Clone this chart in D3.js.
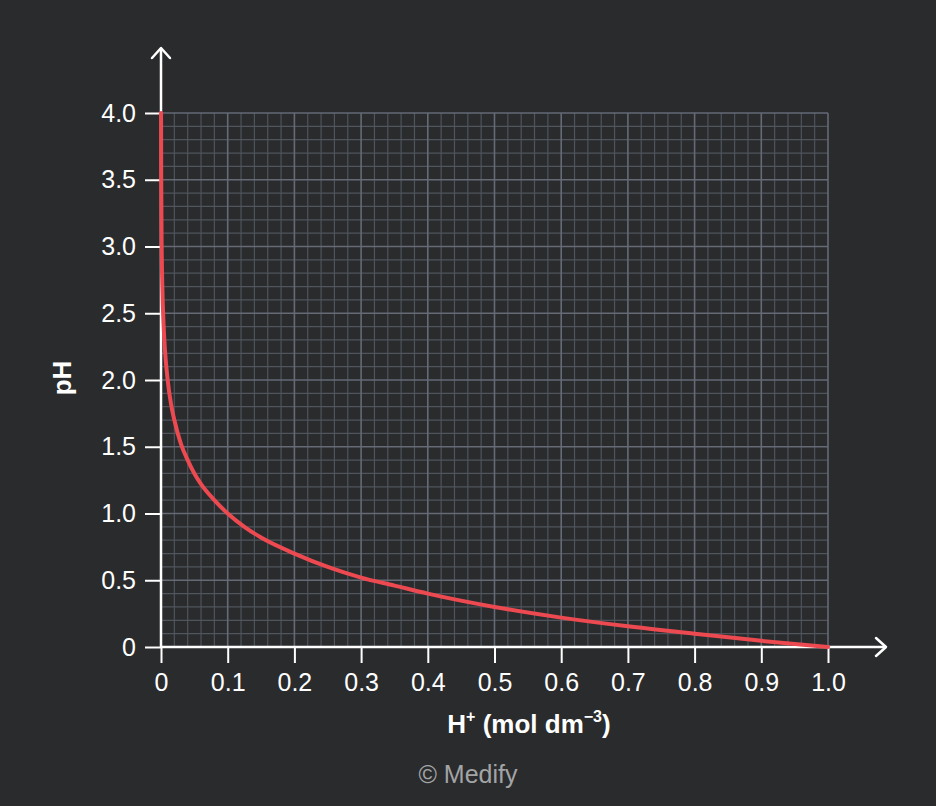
<!DOCTYPE html>
<html>
<head>
<meta charset="utf-8">
<script src="https://cdn.jsdelivr.net/npm/d3@7"></script>
<style>
  html, body { margin: 0; padding: 0; background: #2a2b2d; }
  svg { display: block; font-family: "Liberation Sans", Arial, sans-serif; }
</style>
</head>
<body>
<div id="chart"></div>
<script>
// values
const hConc = [0.0001, 0.0003, 0.001, 0.002, 0.004, 0.006, 0.01, 0.015, 0.02, 0.03, 0.04, 0.05,
  0.06, 0.08, 0.1, 0.125, 0.15, 0.2, 0.25, 0.3, 0.35, 0.4, 0.5, 0.6, 0.7, 0.8, 0.9, 1.0];
const phValues = [4.0, 3.52, 3.0, 2.7, 2.4, 2.22, 2.0, 1.82, 1.7, 1.52, 1.4, 1.3,
  1.22, 1.1, 1.0, 0.9, 0.82, 0.7, 0.6, 0.52, 0.46, 0.4, 0.3, 0.22, 0.155, 0.1, 0.046, 0.0];
const xTicks = [0, 0.1, 0.2, 0.3, 0.4, 0.5, 0.6, 0.7, 0.8, 0.9, 1.0];
const xTickLabels = ["0", "0.1", "0.2", "0.3", "0.4", "0.5", "0.6", "0.7", "0.8", "0.9", "1.0"];
const yTicks = [0, 0.5, 1.0, 1.5, 2.0, 2.5, 3.0, 3.5, 4.0];
const yTickLabels = ["0", "0.5", "1.0", "1.5", "2.0", "2.5", "3.0", "3.5", "4.0"];

const WIDTH = 936;
const HEIGHT = 806;
const MARGIN = { left: 161, right: 108, top: 113, bottom: 159 };
const CHART_WIDTH = WIDTH - MARGIN.left - MARGIN.right;
const CHART_HEIGHT = HEIGHT - MARGIN.top - MARGIN.bottom;

const data = hConc.map((h, i) => ({ h: h, ph: phValues[i] }));

const svg = d3.select('#chart')
  .append('svg')
  .attr('width', WIDTH)
  .attr('height', HEIGHT);

svg.append('rect')
  .attr('width', WIDTH)
  .attr('height', HEIGHT)
  .attr('fill', '#2a2b2d');

const g = svg.append('g')
  .attr('transform', `translate(${MARGIN.left}, ${MARGIN.top})`);

const xScale = d3.scaleLinear().domain([0, 1]).range([0, CHART_WIDTH]);
const yScale = d3.scaleLinear().domain([0, 4]).range([CHART_HEIGHT, 0]);

// minor grid
const grid = g.append('g').attr('class', 'grid');
grid.selectAll('.vminor')
  .data(d3.range(1, 50).filter(i => i % 5 !== 0).map(i => i * 0.02))
  .enter().append('line')
  .attr('x1', d => xScale(d)).attr('x2', d => xScale(d))
  .attr('y1', 0).attr('y2', CHART_HEIGHT)
  .attr('stroke', '#4f545d').attr('stroke-width', 1.2);
grid.selectAll('.hminor')
  .data(d3.range(1, 40).filter(i => i % 5 !== 0).map(i => i * 0.1))
  .enter().append('line')
  .attr('y1', d => yScale(d)).attr('y2', d => yScale(d))
  .attr('x1', 0).attr('x2', CHART_WIDTH)
  .attr('stroke', '#4f545d').attr('stroke-width', 1.2);

// major grid
grid.selectAll('.vmajor')
  .data(xTicks.slice(1))
  .enter().append('line')
  .attr('x1', d => xScale(d)).attr('x2', d => xScale(d))
  .attr('y1', 0).attr('y2', CHART_HEIGHT)
  .attr('stroke', '#656a76').attr('stroke-width', 1.6);
grid.selectAll('.hmajor')
  .data(yTicks.slice(1))
  .enter().append('line')
  .attr('y1', d => yScale(d)).attr('y2', d => yScale(d))
  .attr('x1', 0).attr('x2', CHART_WIDTH)
  .attr('stroke', '#656a76').attr('stroke-width', 1.6);

// axes
const xAxis = g.append('g')
  .attr('class', 'x-axis')
  .attr('transform', `translate(0, ${CHART_HEIGHT})`)
  .call(d3.axisBottom(xScale).tickValues(xTicks)
    .tickFormat((d, i) => xTickLabels[i]).tickSize(16));

const yAxis = g.append('g')
  .attr('class', 'y-axis')
  .call(d3.axisLeft(yScale).tickValues(yTicks)
    .tickFormat((d, i) => yTickLabels[i]).tickSize(16).tickPadding(9));

[xAxis, yAxis].forEach(ax => {
  ax.select('.domain').remove();
  ax.attr('font-size', null).attr('font-family', null);
  ax.selectAll('line').attr('stroke', '#ffffff').attr('stroke-width', 2);
  ax.selectAll('text')
    .attr('fill', '#ffffff')
    .style('font-size', '25px');
});
xAxis.selectAll('text').attr('y', 44).attr('dy', 0);
yAxis.selectAll('text').attr('dy', '0.32em');

// axis lines with arrows
g.append('line')
  .attr('x1', 0).attr('x2', 725)
  .attr('y1', CHART_HEIGHT).attr('y2', CHART_HEIGHT)
  .attr('stroke', '#ffffff').attr('stroke-width', 2.5);
g.append('path')
  .attr('d', `M${715},${CHART_HEIGHT - 9} L${725},${CHART_HEIGHT} L${715},${CHART_HEIGHT + 9}`)
  .attr('fill', 'none').attr('stroke', '#ffffff').attr('stroke-width', 2.5)
  .attr('stroke-linecap', 'round').attr('stroke-linejoin', 'round');

g.append('line')
  .attr('x1', 0).attr('x2', 0)
  .attr('y1', CHART_HEIGHT).attr('y2', -65)
  .attr('stroke', '#ffffff').attr('stroke-width', 2.5);
g.append('path')
  .attr('d', `M${-9},${-55} L0,${-65} L${9},${-55}`)
  .attr('fill', 'none').attr('stroke', '#ffffff').attr('stroke-width', 2.5)
  .attr('stroke-linecap', 'round').attr('stroke-linejoin', 'round');

// curve
const lineGenerator = d3.line()
  .x(d => xScale(d.h))
  .y(d => yScale(d.ph))
  .curve(d3.curveMonotoneX);

g.append('path')
  .datum(data)
  .attr('d', lineGenerator)
  .attr('fill', 'none')
  .attr('stroke', '#ec4a50')
  .attr('stroke-width', 4)
  .attr('stroke-linecap', 'round');

// axis titles
const xTitle = svg.append('text')
  .attr('x', 529).attr('y', 733)
  .attr('text-anchor', 'middle')
  .attr('fill', '#ffffff')
  .style('font-size', '26px')
  .style('font-weight', 'bold');
xTitle.append('tspan').text('H');
xTitle.append('tspan').text('+').attr('dy', -11).style('font-size', '16px');
xTitle.append('tspan').text(' (mol dm').attr('dy', 11);
xTitle.append('tspan').text('\u22123').attr('dy', -11).style('font-size', '16px');
xTitle.append('tspan').text(')').attr('dy', 11);

svg.append('text')
  .attr('transform', 'translate(71, 378) rotate(-90)')
  .attr('text-anchor', 'middle')
  .attr('fill', '#ffffff')
  .style('font-size', '26px')
  .style('font-weight', 'bold')
  .text('pH');

svg.append('text')
  .attr('x', 468).attr('y', 783)
  .attr('text-anchor', 'middle')
  .attr('fill', '#a3a4a6')
  .style('font-size', '25px')
  .text('\u00a9 Medify');
</script>
</body>
</html>
